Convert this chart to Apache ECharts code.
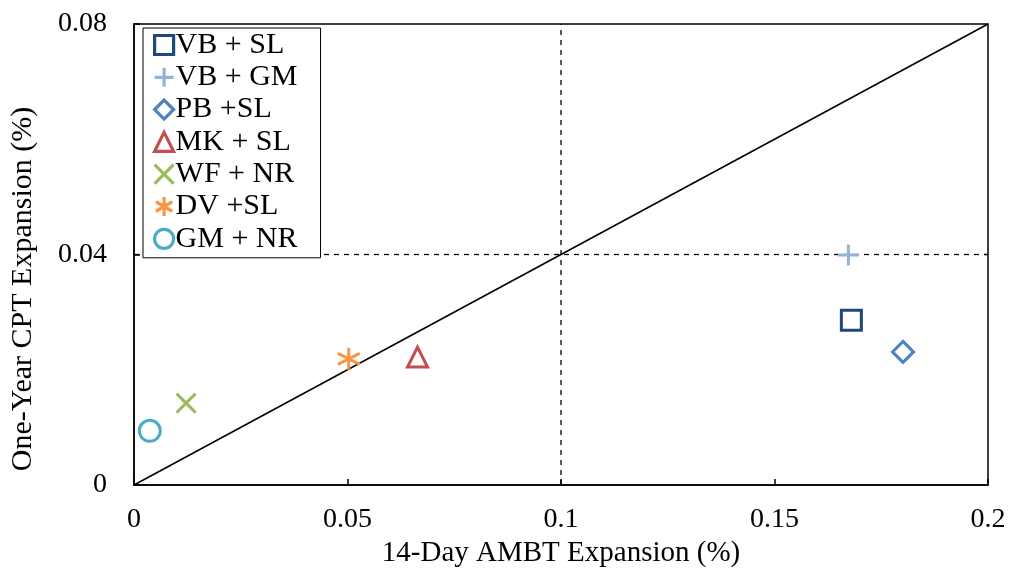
<!DOCTYPE html>
<html>
<head>
<meta charset="utf-8">
<script src="https://cdn.jsdelivr.net/npm/echarts@6/dist/echarts.min.js"></script>
<style>
  html, body { margin: 0; padding: 0; background: #fff; }
  #chart { width: 1009px; height: 577px; }
</style>
</head>
<body>
<div id="chart"></div>
<script>
// Scatter: 14-day AMBT vs one-year CPT expansion

const seriesNames = ['VB + SL', 'VB + GM', 'PB +SL', 'MK + SL', 'WF + NR', 'DV +SL', 'GM + NR'];
const ambtValues = [0.168, 0.1673, 0.1801, 0.0664, 0.0122, 0.0503, 0.0037];
const cptValues = [0.0286, 0.0399, 0.0231, 0.0222, 0.0142, 0.0219, 0.0094];
const seriesColors = ['#1F497D', '#95B3D7', '#4F81BD', '#C0504D', '#9BBB59', '#F79646', '#4BACC6'];

const diagonalLine = [[0, 0], [0.2, 0.08]];
const verticalRef = [[0.1, 0], [0.1, 0.08]];
const horizontalRef = [[0, 0.04], [0.2, 0.04]];

const xTicks = [0, 0.05, 0.1, 0.15, 0.2];
const yTicks = [0, 0.04, 0.08];

const FONT = '"Liberation Serif", "Times New Roman", serif';

// marker shapes (stroked, not filled)
const markers = [
  { symbol: 'rect', size: 20 },
  { symbol: 'path://M5,0 L5,10 M0,5 L10,5', size: 21 },
  { symbol: 'diamond', size: 21 },
  { symbol: 'triangle', size: 20 },
  { symbol: 'path://M0,0 L10,10 M0,10 L10,0', size: 19 },
  { symbol: 'path://M5,0 L5,10 M0.7,2.5 L9.3,7.5 M0.7,7.5 L9.3,2.5', size: 22 },
  { symbol: 'circle', size: 21 }
];

const chart = echarts.init(document.getElementById('chart'), null, { renderer: 'canvas' });

const scatterSeries = seriesNames.map((name, i) => ({
  name,
  type: 'scatter',
  symbol: markers[i].symbol,
  symbolSize: markers[i].size,
  data: [[ambtValues[i], cptValues[i]]],
  itemStyle: { color: 'rgba(0,0,0,0)', borderColor: seriesColors[i], borderWidth: 3, opacity: 1 },
  z: 5
}));

function refLine(data, dashed) {
  return {
    type: 'line',
    data,
    symbol: 'none',
    silent: true,
    lineStyle: { color: '#000', width: dashed ? 1.3 : 1.5, type: dashed ? [5, 5] : 'solid' },
    z: 3
  };
}

const option = {
  backgroundColor: '#fff',
  animation: false,
  textStyle: { fontFamily: FONT },
  grid: {
    left: 133, right: 21, top: 24, bottom: 92,
    show: true, borderColor: '#000', borderWidth: 1.5
  },
  legend: {
    data: seriesNames,
    orient: 'vertical',
    left: 143,
    top: 28,
    itemWidth: 19,
    itemHeight: 19,
    itemGap: 2.3,
    padding: [2, 23, 4, 10],
    backgroundColor: '#fff',
    borderColor: '#000',
    borderWidth: 1,
    borderRadius: 0,
    itemStyle: { borderWidth: 3.2 },
    textStyle: { fontFamily: FONT, fontSize: 30, color: '#000', padding: [0, 0, 0, -3] }
  },
  xAxis: {
    type: 'value',
    min: 0,
    max: 0.2,
    interval: 0.05,
    name: '14-Day AMBT Expansion (%)',
    nameLocation: 'middle',
    nameGap: 52,
    nameTextStyle: { fontFamily: FONT, fontSize: 29, color: '#000' },
    axisLine: { show: true, lineStyle: { color: '#000', width: 1.5 } },
    axisTick: { show: true, inside: true, length: 6, lineStyle: { color: '#000', width: 1.5 } },
    axisLabel: {
      margin: 21, fontFamily: FONT, fontSize: 28, color: '#000',
      formatter: v => String(xTicks.find(t => Math.abs(t - v) < 1e-9) ?? v)
    },
    splitLine: { show: false }
  },
  yAxis: {
    type: 'value',
    min: 0,
    max: 0.08,
    interval: 0.04,
    name: 'One-Year CPT Expansion (%)',
    nameLocation: 'middle',
    nameGap: 96,
    nameTextStyle: { fontFamily: FONT, fontSize: 30, color: '#000', padding: [0, 69, 0, 0] },
    axisLine: { show: true, lineStyle: { color: '#000', width: 1.5 } },
    axisTick: { show: true, inside: true, length: 6, lineStyle: { color: '#000', width: 1.5 } },
    axisLabel: {
      margin: 27, fontFamily: FONT, fontSize: 28, color: '#000',
      formatter: v => String(yTicks.find(t => Math.abs(t - v) < 1e-9) ?? v)
    },
    splitLine: { show: false }
  },
  series: [
    refLine(diagonalLine, false),
    refLine(verticalRef, true),
    refLine(horizontalRef, true),
    ...scatterSeries
  ]
};

chart.setOption(option);
</script>
</body>
</html>
